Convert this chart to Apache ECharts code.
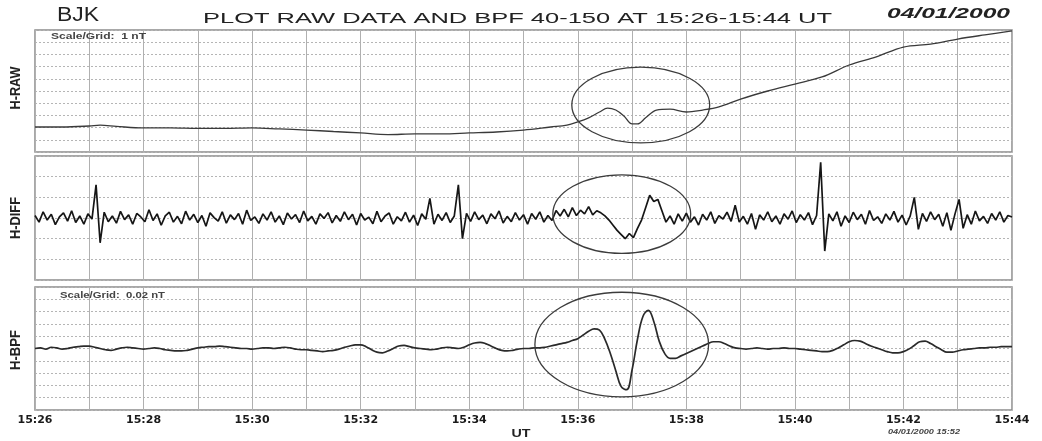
<!DOCTYPE html>
<html><head><meta charset="utf-8">
<script src="https://cdn.jsdelivr.net/npm/echarts@6/dist/echarts.min.js"></script>
<style>html,body{margin:0;padding:0;background:#fff}#c{width:1042px;height:441px}</style>
</head><body><div id="c"></div>
<script>
// ---------- text ----------
const stationName = 'BJK';
const titleText = 'PLOT RAW DATA AND BPF 40-150 AT 15:26-15:44 UT';
const dateText = '04/01/2000';
const stampText = '04/01/2000 15:52';
const panelNames = ['H-RAW', 'H-DIFF', 'H-BPF'];
const scaleTexts = ['Scale/Grid:  1 nT', 'Scale/Grid:  0.02 nT'];
const axisTitle = 'UT';
const tickMinutes = [26, 28, 30, 32, 34, 36, 38, 40, 42, 44];
const tickLabels = ['15:26', '15:28', '15:30', '15:32', '15:34', '15:36', '15:38', '15:40', '15:42', '15:44'];

// ---------- data (time in minutes after 15:00) ----------
const rawT = [26.0, 26.5, 27.0, 27.2, 27.5, 28.0, 28.5, 29.0, 29.5, 30.0, 30.5, 31.0, 31.5, 32.0, 32.5, 33.0, 33.5, 34.0, 34.5, 35.0, 35.5, 35.8, 36.0, 36.2, 36.4, 36.55, 36.7, 36.85, 37.0, 37.1, 37.25, 37.45, 37.7, 38.0, 38.3, 38.6, 39.0, 39.5, 40.0, 40.5, 41.0, 41.5, 42.0, 42.5, 43.0, 43.5, 44.0];
const rawV = [2.05, 2.05, 2.13, 2.2, 2.1, 1.97, 1.97, 1.93, 1.93, 1.97, 1.89, 1.8, 1.68, 1.56, 1.43, 1.48, 1.48, 1.56, 1.64, 1.8, 2.05, 2.2, 2.46, 2.8, 3.28, 3.6, 3.44, 2.95, 2.3, 2.3, 2.8, 3.44, 3.52, 3.28, 3.44, 3.7, 4.34, 5.0, 5.57, 6.15, 7.13, 7.8, 8.6, 8.85, 9.26, 9.6, 9.92];

const diffStart = 26, diffStep = 0.075;
const diffV = [
  0.12,-0.2,0.3,-0.1,0.18,-0.32,0.05,0.25,-0.15,0.35,-0.22,0.1,-0.3,0.2,-0.05,1.6,-1.2,0.28,-0.18,0.1,
  -0.25,0.32,-0.08,0.15,-0.3,0.22,0.05,-0.18,0.4,-0.12,0.2,-0.35,0.1,0.28,-0.2,0.08,-0.28,0.33,-0.1,0.18,
  -0.22,0.12,-0.4,0.25,0.02,-0.15,0.3,-0.25,0.15,-0.08,0.22,-0.3,0.38,-0.12,0.05,-0.26,0.2,-0.1,0.3,-0.2,
  0.1,-0.32,0.24,-0.05,0.16,-0.22,0.34,-0.14,0.08,-0.3,0.2,-0.02,0.26,-0.24,0.12,-0.16,0.3,-0.08,0.18,-0.34,
  0.22,-0.1,0.04,-0.28,0.32,-0.18,0.1,0.24,-0.3,0.06,-0.14,0.28,-0.2,0.14,-0.36,0.2,-0.06,0.95,-0.3,0.18,
  -0.12,0.26,-0.22,0.1,1.6,-1.0,0.22,-0.16,0.3,-0.08,0.14,-0.28,0.2,-0.04,0.34,-0.24,0.08,-0.18,0.26,-0.1,
  0.16,-0.3,0.22,-0.06,0.3,-0.2,0.12,-0.12,0.36,0.1,0.42,0.05,0.5,0.12,0.38,0.2,0.55,0.15,0.35,0.25,
  0.1,-0.1,-0.35,-0.6,-0.8,-1.0,-0.75,-0.95,-0.5,-0.1,0.5,1.1,0.8,0.9,0.35,-0.2,0.1,-0.3,0.2,-0.15,
  0.24,-0.2,0.06,-0.34,0.18,-0.1,0.3,-0.26,0.12,-0.05,0.28,-0.16,0.62,-0.2,0.08,-0.3,0.22,-0.55,0.15,-0.1,
  0.3,-0.18,0.1,-0.3,0.2,-0.06,0.34,-0.22,0.16,-0.1,0.26,-0.32,0.12,2.7,-1.6,0.2,-0.14,0.3,-0.4,0.1,
  -0.22,0.28,-0.08,0.18,-0.3,0.36,-0.12,0.06,-0.26,0.2,-0.1,0.32,-0.2,0.14,-0.34,0.1,1.0,-0.55,0.22,-0.16,
  0.3,-0.08,0.18,-0.4,0.26,-0.6,0.2,0.9,-0.5,0.16,-0.3,0.34,-0.14,0.08,-0.26,0.22,-0.1,0.3,-0.2,0.12,0.05
];

const bpfStart = 26, bpfStep = 0.1;
const bpfV = [
  0,0.001,-0.001,0.002,0.001,-0.001,0,0.002,0.003,0.004,
  0.004,0.002,0,-0.002,-0.003,-0.001,0.001,0.002,0.001,0,
  -0.001,0,0.001,0,-0.002,-0.003,-0.004,-0.004,-0.003,-0.001,
  0.001,0.002,0.003,0.003,0.004,0.003,0.002,0.001,0,0,
  -0.001,0,0.001,0.001,0,0.001,0.002,0.001,-0.001,-0.002,
  -0.002,-0.003,-0.004,-0.005,-0.004,-0.003,-0.001,0.002,0.004,0.006,
  0.006,0.003,-0.002,-0.006,-0.007,-0.004,0,0.004,0.005,0.003,
  0.001,0,-0.001,-0.002,-0.001,0.001,0.002,0.001,0,0.002,
  0.006,0.009,0.01,0.008,0.004,0,-0.003,-0.004,-0.003,-0.001,
  0,0,0.001,0.001,0.002,0.004,0.006,0.008,0.01,0.013,
  0.016,0.022,0.028,0.032,0.03,0.015,-0.008,-0.036,-0.062,-0.067,
  -0.035,0.015,0.052,0.062,0.044,0.012,-0.008,-0.016,-0.016,-0.012,
  -0.008,-0.004,0,0.004,0.008,0.011,0.011,0.008,0.004,0.001,
  0,-0.001,0,0.001,0,-0.001,0,0,0.001,0,
  0,-0.001,-0.002,-0.003,-0.004,-0.005,-0.005,-0.003,0.001,0.006,
  0.011,0.013,0.012,0.008,0.004,0.001,-0.002,-0.005,-0.007,-0.007,
  -0.005,-0.001,0.005,0.011,0.012,0.008,0.003,-0.002,-0.006,-0.006,
  -0.004,-0.002,-0.001,0,0.001,0.001,0.002,0.002,0.003,0.003,
  0.003
];

// event ellipses in data units
const eventPanel = [0, 1, 2];
const eventT = [37.16, 36.81, 36.81];
const eventV = [3.85, 0.19, 0.0065];
const eventDT = [1.27, 1.27, 1.6];
const eventDV = [3.1, 1.9, 0.085];

// ---------- chart ----------
const chart = echarts.init(document.getElementById('c'), null, {renderer: 'canvas'});
const L = 35, W = 977;
const grids = [
  {left: L, width: W, top: 30, height: 122},
  {left: L, width: W, top: 156, height: 124},
  {left: L, width: W, top: 287, height: 123}
];
const yRanges = [[0, 10, 1], [-3, 3, 1], [-0.1, 0.1, 0.02]];

const xAxes = grids.map((g, i) => ({
  type: 'value', gridIndex: i, min: 26, max: 44, interval: 1,
  axisLine: {show: false}, axisTick: {show: false},
  splitLine: {show: true, lineStyle: {color: '#b0b0b0', width: 1}},
  axisLabel: {
    show: i === 2, margin: 5, color: '#1a1a1a', fontSize: 11, fontWeight: 'bold',
    fontFamily: 'DejaVu Sans',
    formatter: v => { const k = tickMinutes.indexOf(Math.round(v)); return (k >= 0 && Math.abs(v - tickMinutes[k]) < 1e-6) ? tickLabels[k] : ''; }
  }
}));
const yAxes = grids.map((g, i) => ({
  type: 'value', gridIndex: i, min: yRanges[i][0], max: yRanges[i][1], interval: yRanges[i][2],
  axisLine: {show: false}, axisTick: {show: false}, axisLabel: {show: false},
  splitLine: {show: true, lineStyle: {color: '#b5b5b5', type: [2, 2], width: 1}}
}));

const rawData = rawT.map((t, i) => [t, rawV[i]]);
const diffData = diffV.map((v, i) => [diffStart + i * diffStep, v]);
const bpfData = bpfV.map((v, i) => [bpfStart + i * bpfStep, v]);

chart.setOption({
  animation: false,
  backgroundColor: '#fff',
  grid: grids.map(g => Object.assign({show: true, borderColor: '#8c8c8c', borderWidth: 1.5, backgroundColor: 'transparent'}, g)),
  xAxis: xAxes,
  yAxis: yAxes,
  series: [
    {type: 'line', xAxisIndex: 0, yAxisIndex: 0, data: rawData, symbol: 'none', smooth: 0.35,
     lineStyle: {color: '#3a3a3a', width: 1.3}},
    {type: 'line', xAxisIndex: 1, yAxisIndex: 1, data: diffData, symbol: 'none',
     lineStyle: {color: '#161616', width: 1.7}},
    {type: 'line', xAxisIndex: 2, yAxisIndex: 2, data: bpfData, symbol: 'none', smooth: 0.4,
     lineStyle: {color: '#2a2a2a', width: 1.7}}
  ]
});

// ---------- annotations ----------
const mctx = document.createElement('canvas').getContext('2d');
function fontStr(o) { return (o.style || 'normal') + ' ' + (o.weight || 'normal') + ' ' + o.size + 'px ' + o.family; }
function fitText(str, o, targetW) { mctx.font = fontStr(o); return targetW / mctx.measureText(str).width; }
function textEl(str, o, x, y, targetW, align, extra) {
  const sx = fitText(str, o, targetW);
  return Object.assign({
    type: 'text', x: x, y: y, scaleX: sx, scaleY: o.sy || 1, silent: true, z: 100,
    style: {text: str, fill: o.color || '#1a1a1a', fontSize: o.size, fontFamily: o.family,
            fontWeight: o.weight || 'normal', fontStyle: o.style || 'normal',
            align: align || 'left', verticalAlign: 'middle'}
  }, extra || {});
}
const sans = 'Liberation Sans';
const graphics = [];
graphics.push(textEl(stationName, {size: 20, family: sans, color: '#222'}, 57, 15, 42));
graphics.push(textEl(titleText, {size: 14, family: sans, color: '#222'}, 203, 19, 629));
graphics.push(textEl(dateText, {size: 15, family: sans, weight: 'bold', style: 'italic', color: '#222'}, 887, 14, 123));
graphics.push(textEl(scaleTexts[0], {size: 9, family: sans, weight: 'bold', color: '#444'}, 51, 37, 95));
graphics.push(textEl(scaleTexts[1], {size: 9, family: sans, weight: 'bold', color: '#444'}, 60, 296, 105));
const nameY = [88, 218, 350], nameLen = [43, 42, 40];
panelNames.forEach((n, i) => {
  graphics.push(textEl(n, {size: 12, family: sans, weight: 'bold', color: '#222', sy: 1.25}, 16, nameY[i], nameLen[i], 'center', {rotation: Math.PI / 2}));
});
graphics.push(textEl(axisTitle, {size: 11, family: sans, weight: 'bold', color: '#222'}, 521, 434, 19, 'center'));
graphics.push(textEl(stampText, {size: 7, family: sans, style: 'italic', weight: 'bold', color: '#444'}, 888, 432, 72));

eventPanel.forEach((p, k) => {
  const c = chart.convertToPixel({gridIndex: p}, [eventT[k], eventV[k]]);
  const e = chart.convertToPixel({gridIndex: p}, [eventT[k] + eventDT[k], eventV[k] + eventDV[k]]);
  graphics.push({type: 'ellipse', silent: true, z: 90,
    shape: {cx: c[0], cy: c[1], rx: Math.abs(e[0] - c[0]), ry: Math.abs(e[1] - c[1])},
    style: {fill: 'none', stroke: '#3c3c3c', lineWidth: 1.3}});
});
chart.setOption({graphic: graphics});
</script>
</body></html>
